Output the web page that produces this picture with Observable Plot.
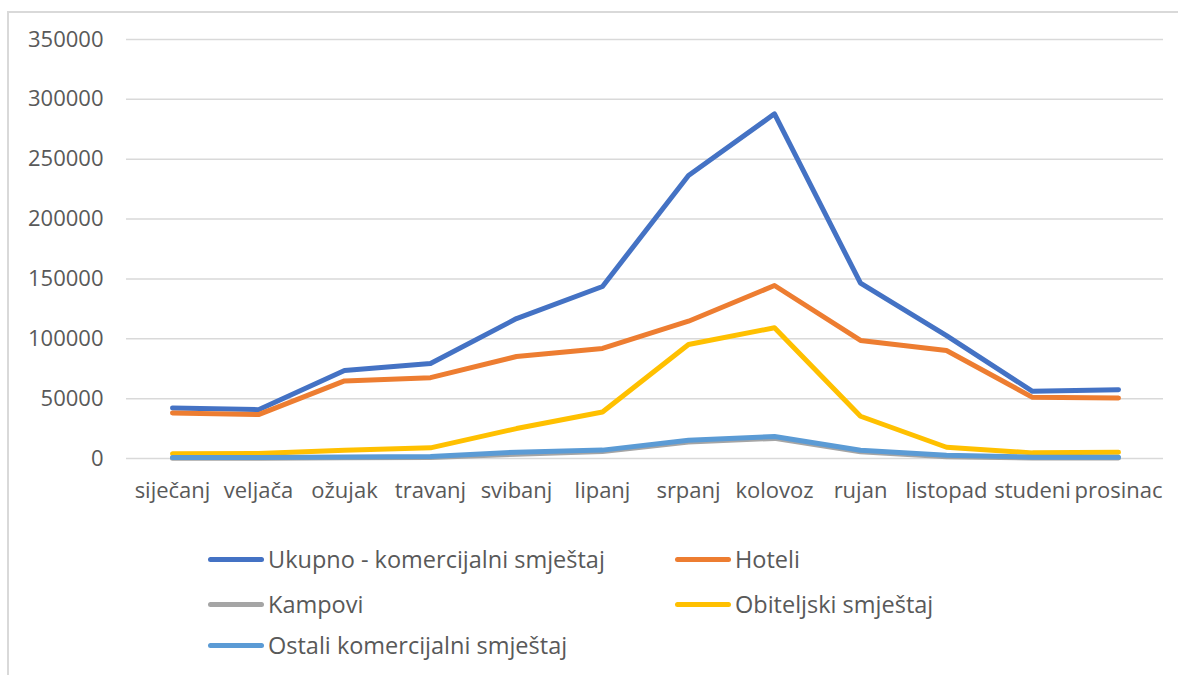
<!DOCTYPE html>
<html>
<head>
<meta charset="utf-8">
<script src="https://cdn.jsdelivr.net/npm/d3@7"></script>
<script src="https://cdn.jsdelivr.net/npm/@observablehq/plot@0.6"></script>
<style>
  html, body { margin: 0; padding: 0; background: #fff; }
  #wrap { position: relative; width: 1178px; height: 675px; overflow: hidden; font-family: "Open Sans", sans-serif; color: #595959; }
  #frame { position: absolute; left: 7px; top: 11px; width: 1300px; height: 800px; border-left: 2px solid #d9d9d9; border-top: 2px solid #d9d9d9; }
  #chart { position: absolute; left: 0; top: 0; }
  .lg { position: absolute; display: flex; align-items: center; font-size: 23.5px; white-space: nowrap; }
  .lg .sw { width: 56px; height: 5px; border-radius: 3px; margin-right: 4px; }
</style>
</head>
<body>
<div id="wrap">
  <div id="frame"></div>
  <div id="chart"></div>
  <div id="legend"></div>
</div>
<script>
const months = ["siječanj","veljača","ožujak","travanj","svibanj","lipanj","srpanj","kolovoz","rujan","listopad","studeni","prosinac"];
const seriesNames = ["Ukupno - komercijalni smještaj","Hoteli","Kampovi","Obiteljski smještaj","Ostali komercijalni smještaj"];
const seriesColors = ["#4472C4","#ED7D31","#A5A5A5","#FFC000","#5B9BD5"];
const ukupno     = [42200, 40800, 73500, 79400, 116900, 143700, 236400, 287900, 146400, 102700, 56100, 57500];
const hoteli     = [38100, 36700, 64800, 67500, 85200, 91900, 114700, 144500, 98600, 90200, 51100, 50600];
const kampovi    = [300, 300, 600, 900, 3500, 5800, 13800, 16800, 5600, 1500, 500, 400];
const obiteljski = [3900, 4200, 6900, 8900, 25000, 38900, 95200, 109200, 35300, 9400, 4700, 5300];
const ostali     = [900, 900, 1300, 1700, 5300, 7000, 15300, 18400, 6900, 2800, 1100, 1100];
const yTicks = [0, 50000, 100000, 150000, 200000, 250000, 300000, 350000];

const seriesValues = [ukupno, hoteli, kampovi, obiteljski, ostali];
const tables = seriesValues.map((vals, i) => months.map((m, j) => ({month: m, value: vals[j], series: seriesNames[i]})));

const chart = Plot.plot({
  width: 1178,
  height: 510,
  marginLeft: 126,
  marginRight: 15,
  marginTop: 39,
  marginBottom: 52,
  style: {fontFamily: "Open Sans", fontSize: "22px", color: "#595959", background: "transparent"},
  x: {type: "point", domain: months, padding: 0.5, label: null},
  y: {domain: [0, 350000], label: null},
  marks: [
    Plot.gridY(yTicks, {stroke: "#d9d9d9", strokeOpacity: 1, strokeWidth: 1.5}),
    Plot.axisY({ticks: yTicks, tickFormat: d3.format("d"), tickSize: 0, tickPadding: 23, label: null}),
    Plot.axisX({tickSize: 0, tickPadding: 24, label: null}),
    ...tables.map((t, i) => Plot.line(t, {x: "month", y: "value", stroke: seriesColors[i], strokeWidth: 5, strokeLinejoin: "round", strokeLinecap: "round"}))
  ]
});
document.getElementById("chart").appendChild(chart);

const legendPos = [[208, 559], [675, 559], [208, 604], [675, 604], [208, 645]];
const lg = document.getElementById("legend");
seriesNames.forEach((n, i) => {
  const d = document.createElement("div");
  d.className = "lg";
  d.style.left = legendPos[i][0] + "px";
  d.style.top = (legendPos[i][1] - 17) + "px";
  d.style.height = "34px";
  d.innerHTML = `<span class="sw" style="background:${seriesColors[i]}"></span><span>${n}</span>`;
  lg.appendChild(d);
});
</script>
</body>
</html>
